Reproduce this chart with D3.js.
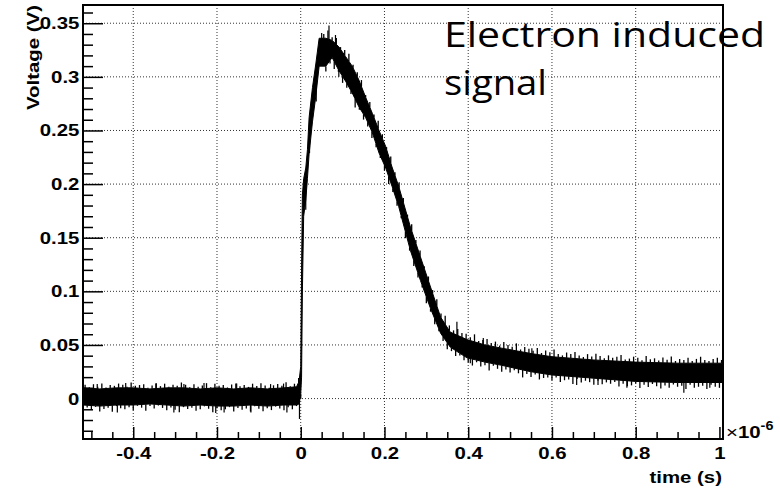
<!DOCTYPE html>
<html>
<head>
<meta charset="utf-8">
<script src="https://cdn.jsdelivr.net/npm/d3@7"></script>
<style>
  body { margin: 0; background: #fff; }
</style>
</head>
<body>
<div id="chart"></div>
<script>
// waveform envelope (time in 1e-6 s, voltage in V)
var times = [-0.52, -0.48, -0.44, -0.40, -0.36, -0.32, -0.28, -0.24, -0.20, -0.16, -0.12, -0.08, -0.04, -0.01, -0.004,
  0.000, 0.002, 0.004, 0.007, 0.012, 0.016, 0.020, 0.028, 0.036, 0.044, 0.060, 0.075, 0.091, 0.107, 0.123, 0.139,
  0.155, 0.171, 0.187, 0.203, 0.218, 0.234, 0.262, 0.286, 0.310, 0.334, 0.357, 0.397, 0.44, 0.48, 0.55, 0.60,
  0.70, 0.80, 0.90, 1.01];
var upper = [0.010, 0.009, 0.010, 0.010, 0.009, 0.010, 0.010, 0.009, 0.010, 0.009, 0.010, 0.009, 0.010, 0.011, 0.016,
  0.030, 0.120, 0.190, 0.205, 0.215, 0.232, 0.262, 0.290, 0.312, 0.336, 0.336, 0.334, 0.328, 0.319, 0.310, 0.297,
  0.281, 0.266, 0.250, 0.235, 0.216, 0.198, 0.160, 0.132, 0.104, 0.076, 0.062, 0.055, 0.050, 0.047, 0.042, 0.039,
  0.036, 0.034, 0.033, 0.033];
var lower = [-0.006, -0.007, -0.006, -0.006, -0.005, -0.006, -0.007, -0.006, -0.007, -0.007, -0.006, -0.007, -0.006, -0.006, -0.005,
  0.004, 0.020, 0.100, 0.170, 0.185, 0.205, 0.228, 0.258, 0.282, 0.310, 0.310, 0.318, 0.306, 0.296, 0.285, 0.272,
  0.262, 0.248, 0.229, 0.215, 0.198, 0.179, 0.138, 0.110, 0.084, 0.061, 0.048, 0.038, 0.034, 0.031, 0.025, 0.022,
  0.019, 0.016, 0.015, 0.015];

// noise fuzz on the band edges, one sample every 0.01 from t = -0.515 (excursion in mV)
var fuzzStart = -0.515;
var fuzzUp = [3, 1, 4, 2, 5, 1, 3, 2, 4, 3, 1, 5, 2, 3, 4, 1, 3, 5, 2, 4, 1, 3, 2, 5, 3, 1, 4, 2, 3, 5,
  1, 4, 2, 3, 1, 4, 5, 2, 3, 1, 4, 2, 5, 3, 1, 3, 4, 2, 5, 1, 3, 4,
  0, 0, 0, 0, 0,
  4, 8, 3, 6, 2, 5, 7, 3, 4, 6, 2, 5, 3, 7, 4, 2, 6, 3, 5, 4, 2, 6, 3, 5, 2, 4, 3, 6, 4, 8, 5, 3, 6, 4,
  5, 3, 7, 2, 4, 6, 3, 5, 2, 6, 4, 3, 7, 2, 5, 4, 3, 6, 2, 5, 4, 7, 3, 2, 5, 4, 6, 3, 2, 5,
  3, 6, 4, 2, 5, 3, 4, 6, 2, 3, 5, 4, 2, 6, 3, 4, 2, 5, 3, 6, 2, 4, 3, 5, 2, 4, 6, 3, 2, 4, 5, 3];
var fuzzDown = [2, 4, 1, 5, 3, 2, 6, 1, 3, 4, 2, 5, 1, 3, 6, 2, 4, 1, 3, 5, 2, 4, 6, 1, 3, 2, 5, 4, 1, 3,
  6, 2, 4, 3, 1, 5, 2, 4, 3, 6, 1, 3, 5, 2, 4, 1, 3, 5, 2, 4, 1, 4,
  0, 0, 0, 0, 0,
  5, 3, 7, 2, 6, 4, 3, 8, 2, 5, 4, 6, 3, 2, 5, 7, 3, 4, 2, 6, 3, 5, 4, 2, 6, 3, 5, 2, 4, 6, 3, 5, 2, 4,
  4, 6, 2, 5, 3, 7, 2, 4, 6, 3, 5, 2, 4, 7, 3, 5, 2, 6, 4, 3, 5, 2, 6, 4, 3, 7, 2, 5, 3, 4,
  6, 2, 5, 3, 4, 2, 6, 3, 5, 4, 2, 6, 3, 5, 2, 4, 6, 3, 5, 2, 4, 3, 6, 2, 5, 4, 3, 6, 2, 4, 5, 3];

// larger single spikes [time, tip voltage]
var spikes = [
  [-0.486, 0.0135], [-0.418, 0.0145], [-0.346, 0.014], [-0.279, 0.0135], [-0.231, 0.0145], [-0.153, 0.014],
  [-0.072, 0.0135], [-0.041, 0.014],
  [-0.438, -0.013], [-0.303, -0.013], [-0.203, -0.0135], [-0.183, -0.013], [-0.119, -0.013],
  [-0.033, -0.013], [-0.003, -0.019],
  [0.012, 0.176], [0.021, 0.229], [0.037, 0.277], [0.05, 0.341], [0.0675, 0.348], [0.083, 0.339],
  [0.091, 0.300], [0.119, 0.291], [0.373, 0.0717], [0.405, 0.033], [0.436, 0.0565],
  [0.552, 0.047], [0.659, 0.0127], [0.71, 0.0127], [0.779, 0.010], [0.915, 0.0055], [0.977, 0.010]
];

var xTicks = [-0.4, -0.2, 0, 0.2, 0.4, 0.6, 0.8, 1];
var xTickLabels = ["-0.4", "-0.2", "0", "0.2", "0.4", "0.6", "0.8", "1"];
var yTicks = [0, 0.05, 0.1, 0.15, 0.2, 0.25, 0.3, 0.35];
var yTickLabels = ["0", "0.05", "0.1", "0.15", "0.2", "0.25", "0.3", "0.35"];

var width = 780;
var height = 489;
var margin = {top: 5, right: 57, bottom: 50, left: 83};
var w = width - margin.left - margin.right;
var h = height - margin.top - margin.bottom;

var svg = d3.select("#chart").append("svg")
    .attr("width", width)
    .attr("height", height);

var g = svg.append("g")
    .attr("transform", "translate(" + margin.left + "," + margin.top + ")");

var x = d3.scaleLinear().domain([-0.52, 1.0085]).range([0, w]);
var y = d3.scaleLinear().domain([-0.0377, 0.367]).range([h, 0]);

// dotted grid
g.append("g").selectAll("line")
    .data(xTicks.filter(function(d) { return d < 1; }))
  .enter().append("line")
    .attr("x1", function(d) { return x(d); })
    .attr("x2", function(d) { return x(d); })
    .attr("y1", 0).attr("y2", h)
    .attr("stroke", "#333").attr("stroke-width", 1)
    .attr("stroke-dasharray", "1,2");

g.append("g").selectAll("line")
    .data(yTicks)
  .enter().append("line")
    .attr("x1", 0).attr("x2", w)
    .attr("y1", function(d) { return y(d); })
    .attr("y2", function(d) { return y(d); })
    .attr("stroke", "#333").attr("stroke-width", 1)
    .attr("stroke-dasharray", "1,2");

// trace
g.append("clipPath").attr("id", "clip")
  .append("rect").attr("width", w).attr("height", h);

var plot = g.append("g").attr("clip-path", "url(#clip)");

var band = times.map(function(t, i) { return {t: t, hi: upper[i], lo: lower[i]}; });

plot.append("path")
    .datum(band)
    .attr("fill", "#000")
    .attr("stroke", "#000")
    .attr("stroke-width", 1)
    .attr("d", d3.area()
        .x(function(d) { return x(d.t); })
        .y0(function(d) { return y(d.lo); })
        .y1(function(d) { return y(d.hi); }));

var upAt = d3.scaleLinear().domain(times).range(upper);
var loAt = d3.scaleLinear().domain(times).range(lower);

var fuzz = [];
fuzzUp.forEach(function(mv, i) {
  var t = fuzzStart + i * 0.01;
  if (mv > 0) fuzz.push({t: t, from: upAt(t), to: upAt(t) + mv / 1000});
});
fuzzDown.forEach(function(mv, i) {
  var t = fuzzStart + 0.005 + i * 0.01;
  if (mv > 0) fuzz.push({t: t, from: loAt(t), to: loAt(t) - mv / 1000});
});

plot.append("g").selectAll("line")
    .data(fuzz)
  .enter().append("line")
    .attr("x1", function(d) { return x(d.t); })
    .attr("x2", function(d) { return x(d.t); })
    .attr("y1", function(d) { return y(d.from); })
    .attr("y2", function(d) { return y(d.to); })
    .attr("stroke", "#000")
    .attr("stroke-width", 1.3);

plot.append("g").selectAll("line")
    .data(spikes)
  .enter().append("line")
    .attr("x1", function(d) { return x(d[0]); })
    .attr("x2", function(d) { return x(d[0]); })
    .attr("y1", function(d) { return y((upAt(d[0]) + loAt(d[0])) / 2); })
    .attr("y2", function(d) { return y(d[1]); })
    .attr("stroke", "#000")
    .attr("stroke-width", 1.2);

// axes, ROOT style ticks pointing inwards
var labelFont = "'Liberation Sans', Arial, Helvetica, sans-serif";

function styleTicks(sel) {
  sel.select(".domain").remove();
  sel.selectAll("line").attr("stroke", "#000").attr("stroke-width", 1.5);
}

var yMinor = d3.range(-3, 37).filter(function(k) { return k % 5 !== 0; }).map(function(k) { return k / 100; });
var xMinor = d3.range(-10, 21).filter(function(k) { return k % 4 !== 0; }).map(function(k) { return k / 20; });

g.append("g")
    .call(d3.axisLeft(y).tickValues(yMinor).tickSize(-10).tickFormat(""))
    .call(styleTicks);

var yAxis = g.append("g")
    .call(d3.axisLeft(y).tickValues(yTicks).tickSize(-20).tickPadding(3)
      .tickFormat(function(d, i) { return yTickLabels[i]; }))
    .call(styleTicks);

yAxis.selectAll("text")
    .attr("transform", "scale(1.2,1)")
    .style("font-family", labelFont)
    .style("font-weight", "bold")
    .style("font-size", "17px")
    .attr("fill", "#000");

g.append("g")
    .attr("transform", "translate(0," + h + ")")
    .call(d3.axisBottom(x).tickValues(xMinor).tickSize(-7).tickFormat(""))
    .call(styleTicks);

var xAxis = g.append("g")
    .attr("transform", "translate(0," + h + ")")
    .call(d3.axisBottom(x).tickValues(xTicks).tickSize(-12).tickPadding(8)
      .tickFormat(function(d, i) { return xTickLabels[i]; }))
    .call(styleTicks);

xAxis.selectAll("text")
    .attr("transform", "scale(1.2,1)")
    .style("font-family", labelFont)
    .style("font-weight", "bold")
    .style("font-size", "17px")
    .attr("fill", "#000");

// frame
g.append("rect")
    .attr("width", w).attr("height", h)
    .attr("fill", "none")
    .attr("stroke", "#000")
    .attr("stroke-width", 2);

// axis titles
svg.append("text")
    .attr("transform", "translate(722,483) scale(1.2,1)")
    .style("text-anchor", "end")
    .style("font-family", labelFont)
    .style("font-weight", "bold")
    .style("font-size", "17px")
    .text("time (s)");

svg.append("text")
    .attr("transform", "translate(39,5) rotate(-90)")
    .style("text-anchor", "end")
    .style("font-family", labelFont)
    .style("font-weight", "bold")
    .style("font-size", "17px")
    .attr("textLength", 105)
    .attr("lengthAdjust", "spacingAndGlyphs")
    .text("Voltage (V)");

var expo = svg.append("text")
    .attr("transform", "translate(726,438) scale(1.2,1)")
    .style("font-family", labelFont)
    .style("font-size", "17px");
expo.append("tspan").text("\u00d7");
expo.append("tspan").style("font-weight", "bold").text("10");
expo.append("tspan").style("font-weight", "bold").style("font-size", "12px")
    .attr("dy", -8).text("-6");

// annotation
svg.append("text")
    .attr("x", 444).attr("y", 47)
    .attr("textLength", 321)
    .attr("lengthAdjust", "spacingAndGlyphs")
    .style("font-family", "'Open Sans', 'Noto Sans', sans-serif")
    .style("font-size", "34px")
    .text("Electron induced");

svg.append("text")
    .attr("x", 444).attr("y", 95)
    .attr("textLength", 103)
    .attr("lengthAdjust", "spacingAndGlyphs")
    .style("font-family", "'Open Sans', 'Noto Sans', sans-serif")
    .style("font-size", "34px")
    .text("signal");
</script>
</body>
</html>
